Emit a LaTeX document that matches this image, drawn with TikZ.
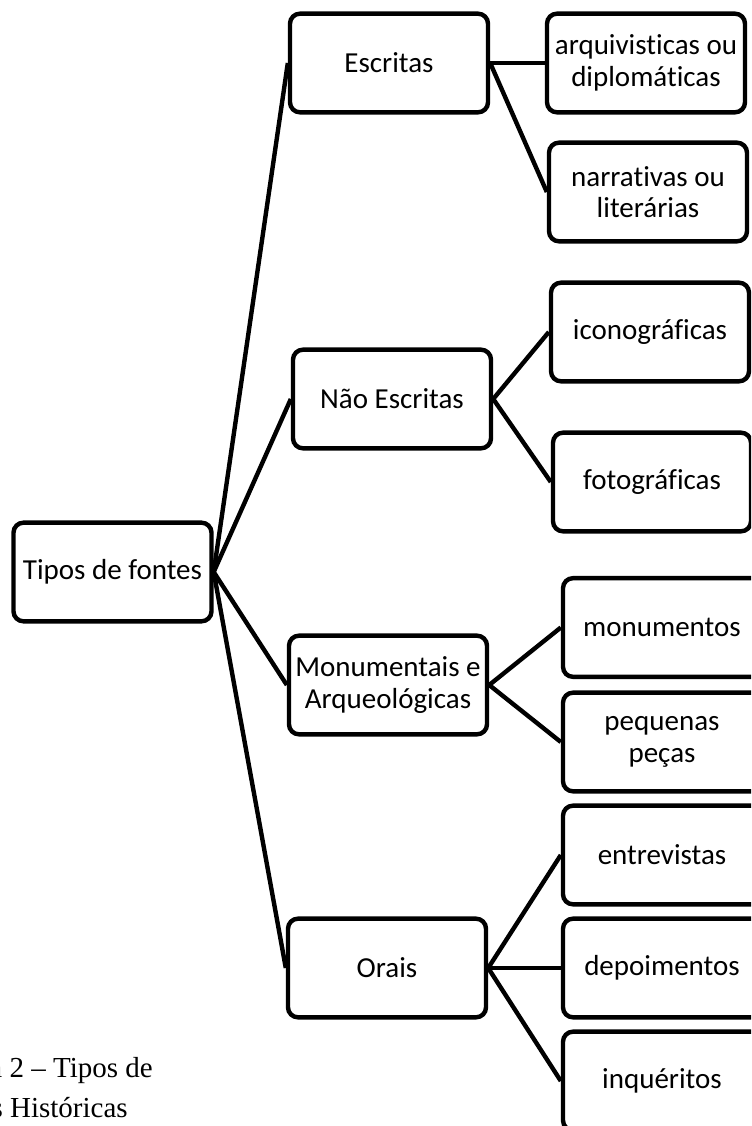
\documentclass[tikz,border=0pt]{standalone}
\usepackage{fontspec}
\setmainfont{Carlito}[Ligatures=NoCommon]
\newfontfamily\legendafont{Liberation Serif}

\begin{document}
\begin{tikzpicture}[x=0.75pt,y=-0.75pt,
        caixa/.style={draw, line width=3.3pt, rounded corners=7.5pt,
            minimum width=148.5pt, minimum height=74pt, inner sep=0pt,
            align=center, font=\fontsize{21.75}{23.5}\selectfont},
        ligacao/.style={line width=3.3pt},
        legenda/.style={anchor=base east, inner sep=0pt,
            font=\legendafont\fontsize{21.75}{26}\selectfont}]
        \useasboundingbox (0,0) rectangle (751,1126);
        \clip (0,0) rectangle (751,1126);

        % root
        \node[caixa] (tipos) at (112.5,572) {Tipos de fontes};

        % types
        \node[caixa] (escritas) at (389,63) {Escritas};
        \node[caixa] (naoescritas) at (392,399) {Não Escritas};
        \node[caixa] (monumentais) at (388,685) {Monumentais e\\Arqueológicas};
        \node[caixa] (orais) at (387,968) {Orais};

        % subtypes
        \node[caixa] (arquivisticas) at (646,63) {arquivisticas ou\\diplomáticas};
        \node[caixa] (narrativas) at (648,192) {narrativas ou\\literárias};
        \node[caixa] (iconograficas) at (650,332) {iconográficas};
        \node[caixa] (fotograficas) at (652,482) {fotográficas};
        \node[caixa] (monumentos) at (662,627.5) {monumentos};
        \node[caixa] (pequenas) at (662,742) {pequenas\\peças};
        \node[caixa] (entrevistas) at (662,855) {entrevistas};
        \node[caixa] (depoimentos) at (662,968) {depoimentos};
        \node[caixa] (inqueritos) at (662,1081) {inquéritos};

        % root links
        \draw[ligacao] (tipos.east) -- (escritas.west);
        \draw[ligacao] (tipos.east) -- (naoescritas.west);
        \draw[ligacao] (tipos.east) -- (monumentais.west);
        \draw[ligacao] (tipos.east) -- (orais.west);

        % type links
        \draw[ligacao] (escritas.east) -- (arquivisticas.west);
        \draw[ligacao] (escritas.east) -- (narrativas.west);
        \draw[ligacao] (naoescritas.east) -- (iconograficas.west);
        \draw[ligacao] (naoescritas.east) -- (fotograficas.west);
        \draw[ligacao] (monumentais.east) -- (monumentos.west);
        \draw[ligacao] (monumentais.east) -- (pequenas.west);
        \draw[ligacao] (orais.east) -- (entrevistas.west);
        \draw[ligacao] (orais.east) -- (depoimentos.west);
        \draw[ligacao] (orais.east) -- (inqueritos.west);

        % caption
        \node[legenda] (legenda1) at (153,1077) {a 2 – Tipos de};
        \node[legenda] (legenda2) at (128,1117) {s Históricas};
    \end{tikzpicture}
\end{document}
